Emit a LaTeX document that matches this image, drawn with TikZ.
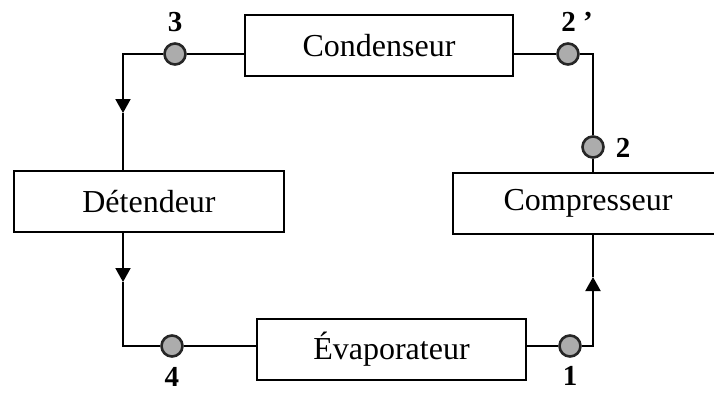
\documentclass[tikz,border=0pt]{standalone}
\usepackage{fontspec}
\setmainfont{Liberation Serif}
\usetikzlibrary{arrows.meta}

\tikzset{
  unit/.style={draw, line width=1pt, inner sep=0pt, minimum height=30.5pt,
    font=\fontsize{16}{19}\selectfont},
  etat/.style={circle, draw=black!85, line width=1.3pt, fill=gray!65, inner sep=0pt, minimum size=10.5pt},
  num/.style={font=\fontsize{14.5}{17}\selectfont\bfseries, inner sep=0pt},
  flux/.style={line width=1pt},
  tip/.style={-{Triangle[width=7.5pt,length=7pt]}}
}

\begin{document}
\begin{tikzpicture}[x=0.5pt,y=-0.5pt]
        \useasboundingbox (0,0) rectangle (714,392);

        % appareils
        \node[unit, minimum width=134pt] (cond) at (379,45.5) {Condenseur};
        \node[unit, minimum width=135pt] (det) at (149,201.5) {Détendeur};
        \node[unit, minimum width=135pt] (comp) at (588,203) {Compresseur};
        \node[unit, minimum width=134.5pt] (evap) at (391.5,349) {Évaporateur};

        % points du cycle
        \node[etat] (p3) at (175,54) {};
        \node[etat] (p2b) at (568,54) {};
        \node[etat] (p2) at (593,147) {};
        \node[etat] (p1) at (570,346) {};
        \node[etat] (p4) at (172,346) {};

        \node[num] (n3) at (175,22) {3};
        \node[num] (n2b) at (577,22) {2 ’};
        \node[num] (n2) at (623,148) {2};
        \node[num] (n1) at (570,376) {1};
        \node[num] (n4) at (172,377) {4};

        % coins et fleches
        \coordinate (k3) at (123,54);
        \coordinate (a3) at (123,113);
        \coordinate (a4) at (123,282);
        \coordinate (k4) at (123,346);
        \coordinate (k1) at (593,346);
        \coordinate (a1) at (593,277);
        \coordinate (k2) at (593,54);

        \draw[flux] (cond.west |- p3) -- (p3);
        \draw[flux, tip] (p3) -- (k3) -- (a3);
        \draw[flux] (a3) -- (det.north -| k3);

        \draw[flux, tip] (det.south -| k3) -- (a4);
        \draw[flux] (a4) -- (k4) -- (p4);
        \draw[flux] (p4) -- (evap.west |- p4);

        \draw[flux] (evap.east |- p1) -- (p1);
        \draw[flux, tip] (p1) -- (k1) -- (a1);
        \draw[flux] (a1) -- (comp.south -| k1);

        \draw[flux] (comp.north -| p2) -- (p2);
        \draw[flux] (p2) -- (k2) -- (p2b);
        \draw[flux] (p2b) -- (cond.east |- p2b);
\end{tikzpicture}
\end{document}
